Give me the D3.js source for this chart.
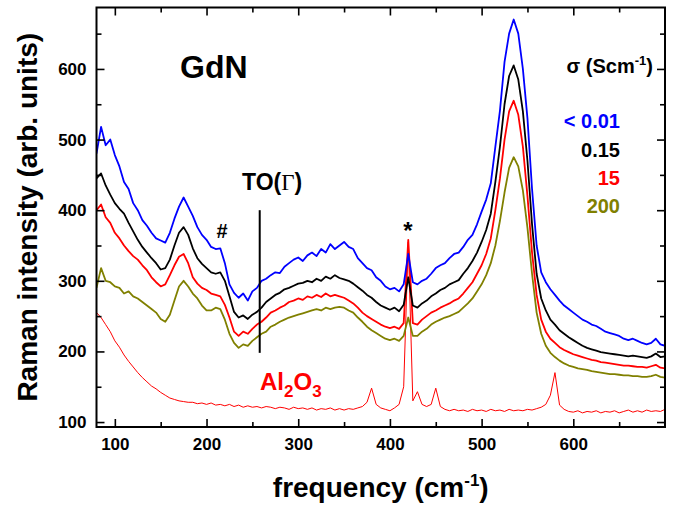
<!DOCTYPE html>
<html>
<head>
<title>GdN raman</title>
<script src="https://d3js.org/d3.v7.min.js"></script>
<style>
body{ margin:0; background:#fff; }
svg text{ font-family: "Liberation Sans", Arial, sans-serif; font-weight: bold; }
.axis path{ display:none; }
.axis line{ stroke:#000; stroke-width:1.6; }
.axis text{ font-size:17px; fill:#000; }
</style>
</head>
<body>
<svg id="chart" width="681" height="506"></svg>
<script>
// sampling grid of the spectra (cm-1)
var freq = d3.range(80, 701, 5);

// one value per 5 cm-1
var sigma001 = [
480, 518, 492, 500, 478, 462, 440, 430, 410, 400,
386, 378, 368, 360, 357, 354, 368, 388, 405, 418,
405, 392, 376, 365, 358, 348, 345, 346, 325, 295,
283, 276, 282, 272, 285, 290, 300, 303, 308, 312,
311, 320, 325, 330, 333, 328, 336, 340, 335, 345,
340, 352, 345, 350, 355, 348, 345, 332, 325, 318,
315, 305, 300, 292, 288, 290, 285, 295, 338, 298,
295, 300, 303, 310, 318, 322, 325, 332, 338, 340,
348, 358, 365, 380, 398, 415, 438, 490, 541, 610,
650, 670, 650, 600, 530, 430, 350, 312, 298, 288,
280, 272, 265, 260, 255, 250, 245, 242, 238, 236,
232, 228, 226, 224, 222, 218, 216, 218, 215, 212,
210, 212, 218, 210, 208];

var sigma015 = [
445, 452, 435, 422, 410, 402, 395, 382, 370, 358,
348, 340, 332, 325, 316, 318, 330, 350, 368, 376,
365, 346, 332, 324, 318, 312, 310, 312, 300, 278,
256, 248, 251, 246, 252, 256, 262, 270, 275, 280,
283, 288, 290, 293, 296, 297, 300, 298, 303, 300,
306, 303, 308, 304, 302, 300, 296, 291, 286, 280,
276, 270, 265, 262, 259, 262, 257, 266, 305, 265,
262, 268, 272, 278, 282, 287, 290, 295, 298, 301,
310, 318, 328, 340, 355, 372, 395, 440, 490, 550,
590, 605, 585, 540, 470, 380, 310, 275, 258, 245,
238, 230, 225, 220, 216, 212, 208, 205, 203, 201,
199, 198, 197, 196, 195, 194, 193, 194, 193, 192,
191, 193, 197, 192, 193];

var sigma15 = [
400, 408, 390, 382, 368, 360, 350, 342, 335, 330,
322, 315, 305, 298, 292, 295, 308, 322, 334, 338,
325, 305, 296, 290, 287, 282, 280, 278, 266, 248,
228, 222, 228, 225, 232, 238, 242, 248, 255, 258,
262, 265, 270, 272, 275, 273, 278, 276, 280, 277,
282, 278, 280, 278, 276, 272, 268, 262, 255, 250,
246, 242, 238, 235, 233, 235, 232, 240, 358, 240,
238, 245, 250, 255, 258, 262, 265, 268, 272, 275,
282, 290, 298, 310, 322, 338, 360, 400, 445, 500,
540, 555, 535, 490, 420, 340, 280, 245, 228, 218,
212, 206, 202, 199, 196, 194, 192, 190, 188, 187,
185, 184, 183, 182, 181, 180, 180, 179, 178, 178,
177, 179, 181, 177, 176];

var sigma200 = [
290, 318, 300, 298, 292, 290, 282, 285, 278, 275,
270, 265, 260, 255, 246, 242, 252, 272, 292, 300,
292, 282, 275, 265, 258, 258, 262, 260, 245, 225,
212, 205, 210, 208, 215, 220, 225, 228, 235, 238,
242, 245, 248, 250, 252, 254, 256, 258, 260, 258,
262, 260, 262, 263, 262, 258, 255, 248, 242, 235,
230, 226, 222, 218, 216, 218, 215, 222, 248, 222,
222, 228, 232, 238, 242, 245, 248, 250, 253, 256,
262, 268, 275, 285, 295, 308, 325, 350, 385, 425,
460, 475, 462, 428, 375, 310, 255, 225, 208, 198,
192, 187, 183, 180, 178, 176, 175, 174, 172, 171,
170, 169, 168, 168, 167, 166, 166, 165, 165, 164,
164, 165, 167, 164, 163];

var al2o3 = [
255, 248, 238, 228, 215, 206, 195, 186, 178, 170,
163, 157, 151, 147, 142, 138, 134, 132, 130, 129,
128, 128, 126, 127, 125, 127, 124, 125, 123, 125,
122, 124, 121, 123, 121, 122, 120, 122, 121, 119,
121, 120, 118, 121, 119, 120, 118, 120, 117, 119,
118, 120, 117, 119, 117, 119, 118, 120, 122, 128,
148, 125, 120, 118, 116, 120, 125, 150, 355, 130,
143, 125, 122, 125, 148, 122, 118, 116, 118, 116,
117, 115, 118, 116, 117, 115, 118, 116, 117, 115,
118, 116, 117, 116, 118, 117, 119, 121, 125, 138,
170, 124, 118, 115, 114, 116, 113, 115, 114, 116,
113, 115, 114, 116, 113, 115, 117, 114, 116, 114,
117, 115, 116, 115, 118];

var legendLabels = ["< 0.01", "0.15", "15", "200"];
var legendColors = ["#0000ff", "#000000", "#ff0000", "#808000"];
var xTicks = [100, 200, 300, 400, 500, 600];
var xMinor = [150, 250, 350, 450, 550, 650];
var yTicks = [100, 200, 300, 400, 500, 600];
var yMinor = [150, 250, 350, 450, 550, 650];

var svg = d3.select("#chart");

// plot frame in pixels
var pLeft = 96.5, pRight = 665, pTop = 7.5, pBottom = 427;

var x = d3.scaleLinear().domain([80, 700]).range([pLeft, pRight]);
var y = d3.scaleLinear().domain([93, 687]).range([pBottom, pTop]);

var plot = svg.append("g");

// clip so the curves stay in the frame
svg.append("clipPath").attr("id", "clip")
	.append("rect").attr("x", pLeft).attr("y", pTop)
	.attr("width", pRight - pLeft).attr("height", pBottom - pTop);

var line = d3.line()
	.x(function(d){ return x(d[0]); })
	.y(function(d){ return y(d[1]); });

function pairs(vals){
	return freq.map(function(f, i){ return [f, vals[i]]; });
}

var curves = [
	{vals: al2o3, color: "#ff0000", w: 1},
	{vals: sigma200, color: "#808000", w: 1.8},
	{vals: sigma15, color: "#ff0000", w: 1.8},
	{vals: sigma015, color: "#000000", w: 1.8},
	{vals: sigma001, color: "#0000ff", w: 1.8}
];

plot.selectAll("path.curve")
	.data(curves)
	.enter()
	.append("path")
	.attr("class", "curve")
	.attr("clip-path", "url(#clip)")
	.attr("fill", "none")
	.attr("stroke", function(d){ return d.color; })
	.attr("stroke-width", function(d){ return d.w; })
	.attr("stroke-linejoin", "round")
	.attr("d", function(d){ return line(pairs(d.vals)); });

/******** AXES (ticks point inward) ********/
svg.append("g").attr("class", "axis")
	.attr("transform", "translate(0," + pBottom + ")")
	.call(d3.axisBottom(x).tickValues(xTicks).tickSize(-8).tickPadding(11));
svg.append("g").attr("class", "axis")
	.attr("transform", "translate(0," + pBottom + ")")
	.call(d3.axisBottom(x).tickValues(xMinor).tickSize(-5).tickFormat(""));
svg.append("g").attr("class", "axis")
	.attr("transform", "translate(0," + pTop + ")")
	.call(d3.axisTop(x).tickValues(xTicks).tickSize(-8).tickFormat(""));
svg.append("g").attr("class", "axis")
	.attr("transform", "translate(0," + pTop + ")")
	.call(d3.axisTop(x).tickValues(xMinor).tickSize(-5).tickFormat(""));

svg.append("g").attr("class", "axis")
	.attr("transform", "translate(" + pLeft + ",0)")
	.call(d3.axisLeft(y).tickValues(yTicks).tickSize(-8).tickPadding(10));
svg.append("g").attr("class", "axis")
	.attr("transform", "translate(" + pLeft + ",0)")
	.call(d3.axisLeft(y).tickValues(yMinor).tickSize(-5).tickFormat(""));
svg.append("g").attr("class", "axis")
	.attr("transform", "translate(" + pRight + ",0)")
	.call(d3.axisRight(y).tickValues(yTicks).tickSize(-8).tickFormat(""));
svg.append("g").attr("class", "axis")
	.attr("transform", "translate(" + pRight + ",0)")
	.call(d3.axisRight(y).tickValues(yMinor).tickSize(-5).tickFormat(""));

// frame
svg.append("rect")
	.attr("x", pLeft).attr("y", pTop)
	.attr("width", pRight - pLeft).attr("height", pBottom - pTop)
	.attr("fill", "none").attr("stroke", "#000").attr("stroke-width", 2);

/******** TITLES ********/
svg.append("text")
	.attr("transform", "translate(37," + ((pTop + pBottom) / 2) + ") rotate(-90)")
	.attr("text-anchor", "middle")
	.style("font-size", "28px")
	.text("Raman intensity (arb. units)");

var xt = svg.append("text")
	.attr("x", (pLeft + pRight) / 2)
	.attr("y", 497)
	.attr("text-anchor", "middle")
	.style("font-size", "28px");
xt.append("tspan").text("frequency (cm");
xt.append("tspan").attr("dy", -11).style("font-size", "17px").text("-1");
xt.append("tspan").attr("dy", 11).text(")");

/******** ANNOTATIONS ********/
svg.append("text").attr("x", 180).attr("y", 78)
	.style("font-size", "32px").text("GdN");

var sg = svg.append("text").attr("x", 653).attr("y", 73)
	.attr("text-anchor", "end").style("font-size", "20px");
sg.append("tspan").text("σ (Scm");
sg.append("tspan").attr("dy", -8).style("font-size", "13px").text("-1");
sg.append("tspan").attr("dy", 8).text(")");

var legendY = [128, 157, 185, 213];
svg.selectAll("text.leg")
	.data(legendLabels)
	.enter()
	.append("text")
	.attr("class", "leg")
	.attr("x", 620)
	.attr("y", function(d, i){ return legendY[i]; })
	.attr("text-anchor", "end")
	.style("font-size", "20px")
	.attr("fill", function(d, i){ return legendColors[i]; })
	.text(function(d){ return d; });

// TO(Gamma) marker
svg.append("line")
	.attr("x1", x(258)).attr("x2", x(258))
	.attr("y1", y(400)).attr("y2", y(198))
	.attr("stroke", "#000").attr("stroke-width", 2);
var to = svg.append("text").attr("x", 242).attr("y", 190).style("font-size", "23px");
to.append("tspan").text("TO(");
to.append("tspan").style("font-family", "'Liberation Serif', serif").style("font-weight", "normal").text("Γ");
to.append("tspan").text(")");

svg.append("text").attr("x", 222).attr("y", 238)
	.attr("text-anchor", "middle").style("font-size", "20px").text("#");
svg.append("text").attr("x", 408).attr("y", 239)
	.attr("text-anchor", "middle").style("font-size", "24px").text("*");

var al = svg.append("text").attr("x", 260).attr("y", 390)
	.attr("fill", "#ff0000").style("font-size", "24px");
al.append("tspan").text("Al");
al.append("tspan").attr("dy", 7).style("font-size", "17px").text("2");
al.append("tspan").attr("dy", -7).text("O");
al.append("tspan").attr("dy", 7).style("font-size", "17px").text("3");
</script>
</body>
</html>
